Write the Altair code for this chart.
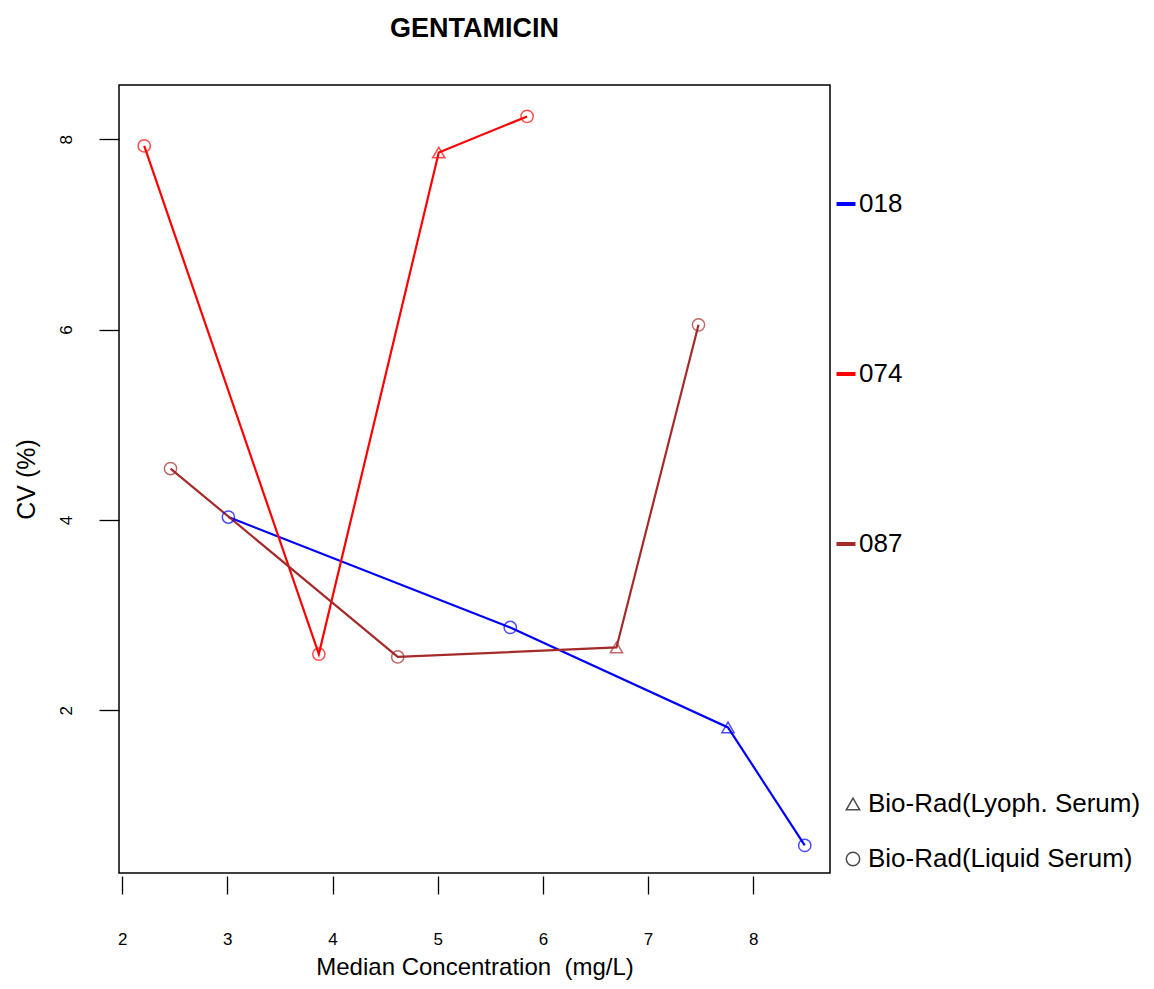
import altair as alt
import pandas as pd

# data
labs = ["018", "018", "018", "018",
        "074", "074", "074", "074",
        "087", "087", "087", "087"]
conc = [3.01, 5.69, 7.76, 8.49,
        2.21, 3.87, 5.01, 5.85,
        2.46, 4.62, 6.70, 7.48]
cv = [4.03, 2.87, 1.82, 0.58,
      7.93, 2.59, 7.86, 8.24,
      4.54, 2.56, 2.66, 6.05]
material = ["Bio-Rad(Liquid Serum)", "Bio-Rad(Liquid Serum)", "Bio-Rad(Lyoph. Serum)", "Bio-Rad(Liquid Serum)",
            "Bio-Rad(Liquid Serum)", "Bio-Rad(Liquid Serum)", "Bio-Rad(Lyoph. Serum)", "Bio-Rad(Liquid Serum)",
            "Bio-Rad(Liquid Serum)", "Bio-Rad(Liquid Serum)", "Bio-Rad(Lyoph. Serum)", "Bio-Rad(Liquid Serum)"]

lab_domain = ["018", "074", "087"]
lab_colors = ["#0000FF", "#FF0000", "#A52A2A"]
mat_domain = ["Bio-Rad(Lyoph. Serum)", "Bio-Rad(Liquid Serum)"]
mat_shapes = ["triangle-up", "circle"]
x_ticks = [2, 3, 4, 5, 6, 7, 8]
y_ticks = [2, 4, 6, 8]

df = pd.DataFrame({"lab": labs, "conc": conc, "cv": cv, "material": material})

FONT = "Liberation Sans"

x_enc = alt.X("conc:Q", scale=alt.Scale(domain=[1.97, 8.73], nice=False, zero=False),
              axis=alt.Axis(values=x_ticks, title="Median Concentration \u00a0(mg/L)", grid=False,
                            domain=False, tickSize=18, offset=3, tickColor="black", tickWidth=1.3,
                            labelPadding=37, labelFontSize=17, labelFont=FONT, labelColor="black",
                            titleFont=FONT, titleFontSize=24, titleFontWeight="normal",
                            titlePadding=8, titleColor="black"))
y_enc = alt.Y("cv:Q", scale=alt.Scale(domain=[0.29, 8.57], nice=False, zero=False),
              axis=alt.Axis(values=y_ticks, title="CV (%)", grid=False, domain=False,
                            tickSize=20, tickColor="black", tickWidth=1.3,
                            labelAngle=270, labelAlign="center", labelBaseline="bottom",
                            labelPadding=24, labelFontSize=17, labelFont=FONT, labelColor="black",
                            titleFont=FONT, titleFontSize=25, titleFontWeight="normal",
                            titlePadding=18, titleColor="black"))

lines = alt.Chart(df).mark_line(strokeWidth=2.2).encode(
    x=x_enc, y=y_enc,
    color=alt.Color("lab:N", scale=alt.Scale(domain=lab_domain, range=lab_colors),
                    legend=alt.Legend(title=None, orient="none", legendX=714, legendY=106,
                                      symbolType="stroke", symbolSize=361, symbolStrokeWidth=4,
                                      labelFontSize=26, labelFont=FONT, labelColor="black",
                                      labelOffset=0, rowPadding=144, labelLimit=0)),
)

points = alt.Chart(df).mark_point(filled=False, size=150, strokeWidth=1.5).encode(
    x=x_enc, y=y_enc,
    stroke=alt.Stroke("lab:N", scale=alt.Scale(domain=lab_domain, range=lab_colors), legend=None),
    shape=alt.Shape("material:N", scale=alt.Scale(domain=mat_domain, range=mat_shapes),
                    legend=alt.Legend(title=None, orient="none", legendX=721, legendY=706,
                                      symbolStrokeColor="black", symbolFillColor="transparent",
                                      symbolStrokeWidth=1.5, symbolSize=180,
                                      labelFontSize=26, labelFont=FONT, labelColor="black",
                                      labelOffset=2, rowPadding=29, labelLimit=0)),
)

chart = alt.layer(lines, points).properties(
    width=711, height=788,
    background="white",
    title=alt.TitleParams("GENTAMICIN", font=FONT, fontSize=27, fontWeight="bold",
                          color="black", anchor="middle", offset=42),
    autosize=alt.AutoSizeParams(type="none"),
    padding={"left": 111, "top": 77, "right": 316, "bottom": 108},
).configure_view(stroke="black", strokeWidth=1.5).configure_axis(
    labelFontSize=17, labelFont=FONT, labelColor="black"
)

chart.save("out.html", embed_options={"renderer": "svg", "actions": False})
